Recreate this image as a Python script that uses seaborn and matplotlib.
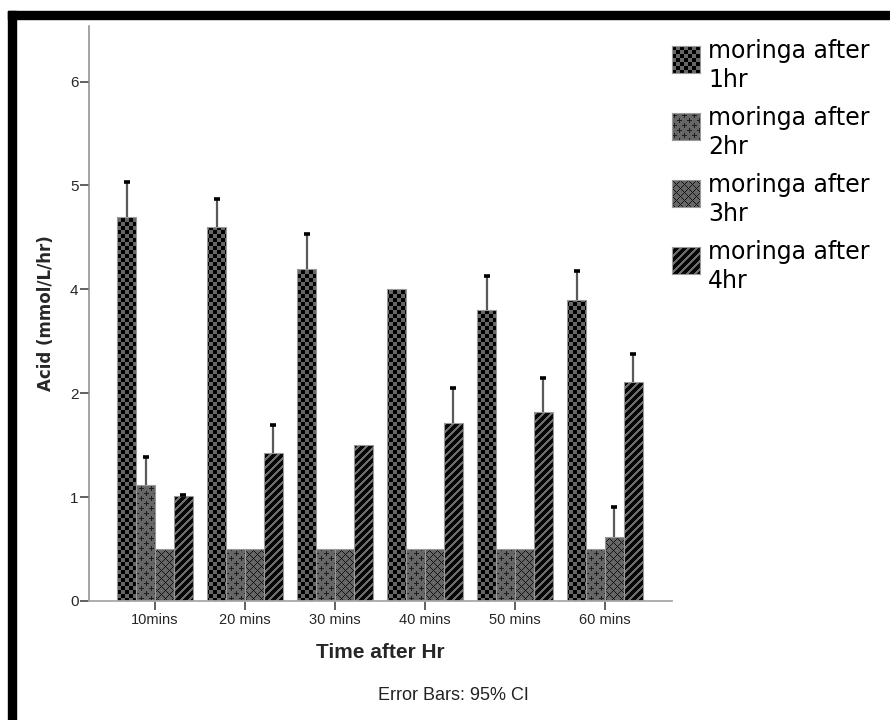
import numpy as np
import pandas as pd
import matplotlib
matplotlib.use("Agg")
import matplotlib.pyplot as plt
import seaborn as sns
from matplotlib.path import Path
from matplotlib.patches import Rectangle

# ---- data -------------------------------------------------------------
times = ["10mins", "20 mins", "30 mins", "40 mins", "50 mins", "60 mins"]
groups = ["moringa after\n1hr", "moringa after\n2hr",
          "moringa after\n3hr", "moringa after\n4hr"]

acid_1hr = [3.70, 3.60, 3.20, 3.00, 2.80, 2.90]
acid_2hr = [1.12, 0.50, 0.50, 0.50, 0.50, 0.50]
acid_3hr = [0.50, 0.50, 0.50, 0.50, 0.50, 0.62]
acid_4hr = [1.01, 1.42, 1.50, 1.71, 1.82, 2.11]

# upper limit of the 95% CI (nan = no whisker visible)
ci_hi_1hr = [4.03, 3.87, 3.53, np.nan, 3.13, 3.18]
ci_hi_2hr = [1.39, np.nan, np.nan, np.nan, np.nan, np.nan]
ci_hi_3hr = [np.nan, np.nan, np.nan, np.nan, np.nan, 0.90]
ci_hi_4hr = [1.02, 1.69, np.nan, 2.05, 2.15, 2.38]

ytick_labels = ["0", "1", "2", "4", "5", "6"]

values = [acid_1hr, acid_2hr, acid_3hr, acid_4hr]
ci_hi = [ci_hi_1hr, ci_hi_2hr, ci_hi_3hr, ci_hi_4hr]
fills = ["checker", "plus", "lattice", "stripes"]

df = pd.DataFrame({
    "time": np.tile(times, len(groups)),
    "group": np.repeat(groups, len(times)),
    "acid": np.concatenate(values),
})

# ---- style ------------------------------------------------------------
sns.set_theme(style="white")
plt.rcParams["font.family"] = ["Liberation Sans", "DejaVu Sans"]

W_PX, H_PX, DPI = 890, 720, 100
fig = plt.figure(figsize=(W_PX / DPI, H_PX / DPI), dpi=DPI)
fig.patch.set_facecolor("white")

ax_l, ax_r, ax_t, ax_b = 89, 672, 26, 601
ax = fig.add_axes([ax_l / W_PX, 1 - ax_b / H_PX,
                   (ax_r - ax_l) / W_PX, (ax_b - ax_t) / H_PX])

GREY = 0.40


def texture(kind, h, w):
    yy, xx = np.mgrid[0:h, 0:w]
    if kind == "checker":
        a = np.where(((yy // 4) + (xx // 4)) % 2 == 0, 0.0, GREY)
    elif kind == "plus":
        a = np.full((h, w), GREY)
        for cy, cx in ((2, 2), (7, 7)):
            dy = (yy - cy) % 10
            dx = (xx - cx) % 10
            dy = np.where(dy > 5, dy - 10, dy)
            dx = np.where(dx > 5, dx - 10, dx)
            arm = ((dy == 0) & (np.abs(dx) <= 2)) | ((dx == 0) & (np.abs(dy) <= 2))
            a[arm] = 0.12
    elif kind == "lattice":
        a = np.full((h, w), GREY)
        a[((xx - yy) % 8 == 0) | ((xx + yy) % 8 == 0)] = 0.08
    else:  # stripes
        a = np.where((xx + yy) % 8 < 3, GREY + 0.03, 0.02)
    return np.dstack([a, a, a])


sns.barplot(data=df, x="time", y="acid", hue="group",
            order=times, hue_order=groups, errorbar=None,
            width=0.84, gap=0, palette=["#444444"] * 4,
            edgecolor="#9a9a9a", linewidth=0.8, legend=False, ax=ax)

ax.set_xlim(-0.733, 5.744)
ax.set_ylim(0, (ax_b - ax_t) / 103.9)

# fill every bar with its series texture (clipped to the bars)
bb = ax.get_window_extent()
tw, th = int(round(bb.width)), int(round(bb.height))
x0, x1 = ax.get_xlim()
y0, y1 = ax.get_ylim()
for cont, kind in zip(ax.containers, fills):
    paths = [p.get_patch_transform().transform_path(p.get_path())
             for p in cont.patches]
    clip = Path.make_compound_path(*paths)
    im = ax.imshow(texture(kind, th, tw), extent=(x0, x1, y0, y1),
                   origin="upper", aspect="auto", interpolation="nearest",
                   zorder=1.2)
    im.set_clip_path(clip, ax.transData)
    for p in cont.patches:
        p.set_facecolor("none")
        p.set_zorder(1.5)
ax.set_xlim(x0, x1)
ax.set_ylim(y0, y1)

# upper CI whiskers
for cont, vals, hi in zip(ax.containers, values, ci_hi):
    xs = np.array([p.get_x() + p.get_width() / 2 for p in cont.patches])
    vals = np.asarray(vals)
    hi = np.asarray(hi)
    ok = ~np.isnan(hi)
    ax.vlines(xs[ok], vals[ok], hi[ok], color="#5a5a5a", lw=1.6, zorder=3)
    ax.plot(xs[ok], hi[ok], ls="none", marker="_", ms=4.5, mew=2.6,
            color="black", zorder=3.5)

# axes cosmetics
for s in ("top", "right"):
    ax.spines[s].set_visible(False)
ax.spines["left"].set_color("#8a8a8a")
ax.spines["left"].set_linewidth(1.1)
ax.spines["bottom"].set_color("#a8a8a8")
ax.spines["bottom"].set_linewidth(1.3)

ax.set_yticks(range(len(ytick_labels)))
ax.set_yticklabels(ytick_labels)
ax.tick_params(axis="y", length=6.5, width=1.3, color="#555555", pad=1,
               labelsize=11, left=True)
ax.tick_params(axis="x", length=6.5, width=1.3, color="#555555", pad=2.5,
               labelsize=10.5, bottom=True, direction="out")
ax.grid(False)

ax.set_ylabel("Acid (mmol/L/hr)", fontsize=12, fontweight="bold",
              family=["DejaVu Sans"], va="center")
ax.yaxis.set_label_coords((46 - ax_l) / (ax_r - ax_l), 0.5)
ax.set_xlabel("Time after Hr", fontsize=15, fontweight="bold", va="center")
ax.xaxis.set_label_coords(0.5, -(652 - ax_b) / (ax_b - ax_t))

fig.text(453 / W_PX, 1 - 695 / H_PX, "Error Bars: 95% CI", ha="center",
         va="center", fontsize=13, color="#222222")

# legend: textured swatches with two-line labels
for i, (lab, kind) in enumerate(zip(groups, fills)):
    top = 46 + 67 * i
    sw = fig.add_axes([672 / W_PX, 1 - (top + 27) / H_PX, 28 / W_PX, 27 / H_PX])
    sw.imshow(texture(kind, 27, 28), interpolation="nearest", aspect="auto")
    sw.set_xticks([])
    sw.set_yticks([])
    for s in sw.spines.values():
        s.set_color("#9a9a9a")
        s.set_linewidth(0.8)
    # baseline of the second line of the label
    fig.text(708 / W_PX, 1 - (87 + 67 * i) / H_PX, lab, ha="left",
             va="baseline", fontsize=17, family=["DejaVu Sans"],
             linespacing=1.26, color="black")

# heavy black frame on the top and left edges
fig.patches.append(Rectangle((7.5 / W_PX, 1 - 19 / H_PX), 1, 8 / H_PX,
                             transform=fig.transFigure, color="black",
                             zorder=10))
fig.patches.append(Rectangle((7.5 / W_PX, 0), 8.5 / W_PX, 1 - 11 / H_PX,
                             transform=fig.transFigure, color="black",
                             zorder=10))

fig.savefig("out.png", dpi=DPI, facecolor="white")
